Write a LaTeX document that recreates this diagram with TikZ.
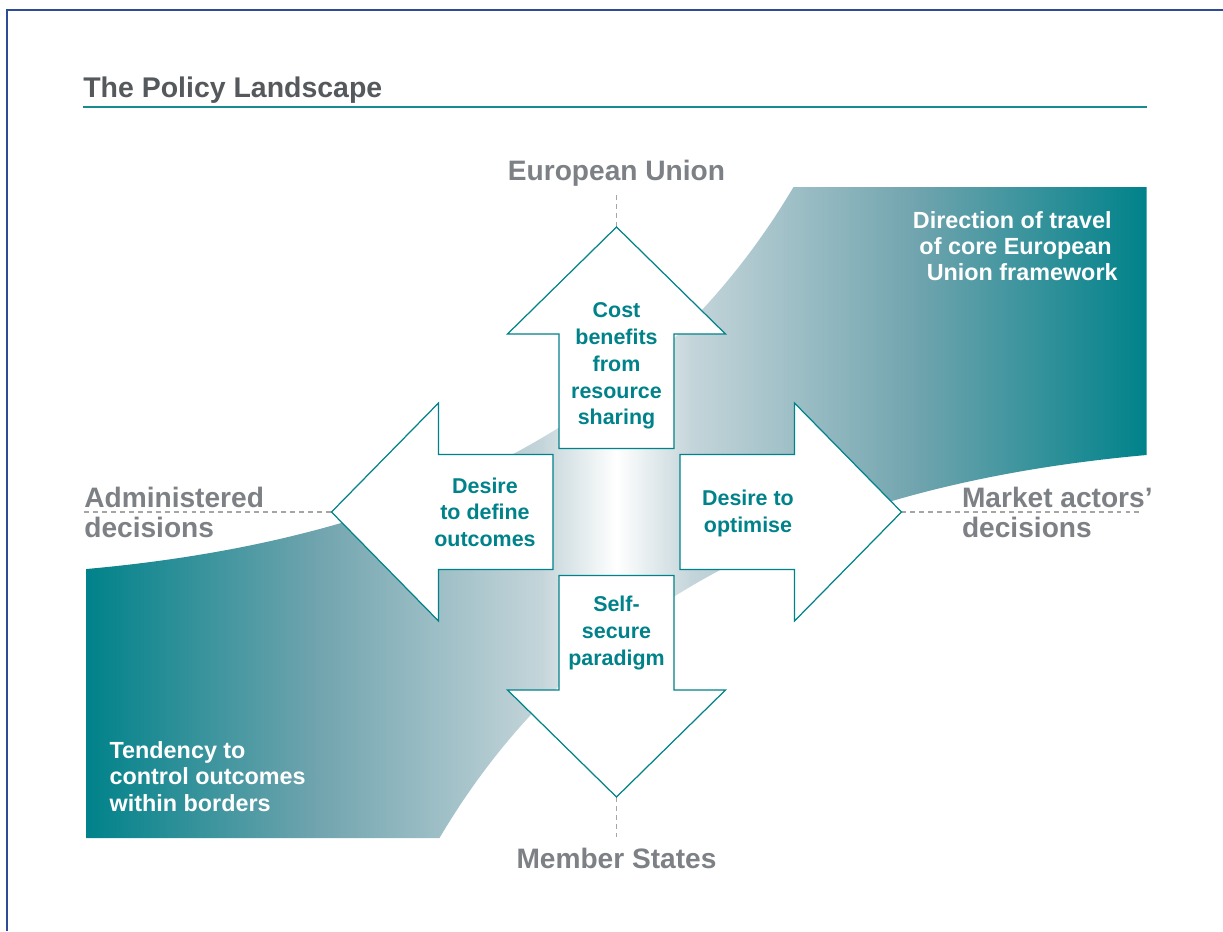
\documentclass[tikz,border=0pt]{standalone}
\usepackage{fontspec}
\setmainfont{Liberation Sans}
\definecolor{tealDark}{RGB}{0,130,138}
\definecolor{tealMid}{RGB}{112,164,174}
\definecolor{tealPale}{RGB}{196,213,218}
\definecolor{labelGray}{RGB}{125,128,132}
\definecolor{titleGray}{RGB}{85,89,92}
\definecolor{guideGray}{RGB}{165,165,165}
\definecolor{frameBlue}{RGB}{45,75,150}
\definecolor{ruleTeal}{RGB}{25,138,144}
\pgfdeclarehorizontalshading{ribbonShade}{100bp}{color(0bp)=(tealDark); color(25bp)=(tealDark); color(35.85bp)=(tealMid); color(46.46bp)=(tealPale); color(50bp)=(white); color(53.54bp)=(tealPale); color(64.15bp)=(tealMid); color(75bp)=(tealDark); color(100bp)=(tealDark)}

\begin{document}
\begin{tikzpicture}[x=0.02cm, y=0.02cm]
		\tikzstyle{Ribbon} = [shading=ribbonShade]
		\tikzstyle{BigArrow} = [draw=tealDark, line width=0.7pt, fill=white, line join=miter]
		\tikzstyle{ArrowText} = [text=tealDark, font=\bfseries\fontsize{12.2}{15.2}\selectfont, align=center, inner sep=0pt, anchor=north]
		\tikzstyle{AxisLabel} = [text=labelGray, font=\bfseries\fontsize{16}{17.2}\selectfont, inner sep=0pt]
		\tikzstyle{WhiteText} = [text=white, font=\bfseries\fontsize{13.3}{15}\selectfont, inner sep=0pt]
		\tikzstyle{guide} = [guideGray, line width=0.6pt, dash pattern=on 2.8pt off 2.3pt]
		
		\useasboundingbox (-616.5,-419) rectangle (606.5,512);
		\draw [frameBlue, line width=1.1pt] (-609.8,-419) -- (-609.8,502.3) -- (606.5,502.3);
		
		% heading
		\node (title) [anchor=base west, text=titleGray, font=\bfseries\fontsize{16.2}{18}\selectfont, inner sep=0pt] at (-533.5,414.3) {The Policy Landscape};
		\draw [ruleTeal, line width=1.1pt] (-533.5,405.3) -- (530.5,405.3);
		
		% ribbon behind the arrows
		\shade [Ribbon] (-530,-326) -- (-177,-326) .. controls (-27,-72) and (230,30) .. (530,57) -- (530,325) -- (177,325) .. controls (27,72) and (-230,-30) .. (-530,-57) -- cycle;
		
		\coordinate (upTip) at (0,285);
		\coordinate (downTip) at (0,-285);
		\coordinate (leftTip) at (-285,0);
		\coordinate (rightTip) at (285,0);
		\coordinate (euEnd) at (0,317);
		\coordinate (msEnd) at (0,-325);
		\coordinate (adminEnd) at (-532.5,0);
		\coordinate (marketEnd) at (526.5,0);
		\draw [guide] (euEnd) -- (upTip);
		\draw [guide] (downTip) -- (msEnd);
		\draw [guide] (adminEnd) -- (leftTip);
		\draw [guide] (rightTip) -- (marketEnd);
		
		\draw [BigArrow] (-57.5,63.5) -- (-57.5,178) -- (-109,178) -- (upTip) -- (109,178) -- (57.5,178) -- (57.5,63.5) -- cycle;
		\draw [BigArrow] (-57.5,-63.5) -- (-57.5,-178) -- (-109,-178) -- (downTip) -- (109,-178) -- (57.5,-178) -- (57.5,-63.5) -- cycle;
		\draw [BigArrow] (-63.5,-57.5) -- (-178,-57.5) -- (-178,-109) -- (leftTip) -- (-178,109) -- (-178,57.5) -- (-63.5,57.5) -- cycle;
		\draw [BigArrow] (63.5,-57.5) -- (178,-57.5) -- (178,-109) -- (rightTip) -- (178,109) -- (178,57.5) -- (63.5,57.5) -- cycle;
		
		\node (costNode) [ArrowText] at (0,209.4) {Cost\\benefits\\from\\resource\\sharing};
		\node (defineNode) [ArrowText] at (-131.5,34.8) {Desire\\to define\\outcomes};
		\node (optimiseNode) [ArrowText] at (131.5,22.5) {Desire to\\optimise};
		\node (selfNode) [ArrowText] at (0,-84) {Self-\\secure\\paradigm};
		
		\node (euLabel) [AxisLabel, anchor=base] at (0,332) {European Union};
		\node (msLabel) [AxisLabel, anchor=base] at (0,-356.3) {Member States};
		\node (adminLabel) [AxisLabel, anchor=north west, align=left] at (-532.5,25.5) {Administered\\decisions};
		\node (marketLabel) [AxisLabel, anchor=north west, align=left] at (345.2,25.5) {Market actors’\\decisions};
		
		\node (travelNode) [WhiteText, anchor=north east, align=right] at (495.5,301) {Direction of travel\\of core European\\Union framework\hspace*{-3.4pt}};
		\node (tendencyNode) [WhiteText, anchor=north west, align=left] at (-507.2,-229.2) {Tendency to\\control outcomes\\within borders};
		\end{tikzpicture}
\end{document}
